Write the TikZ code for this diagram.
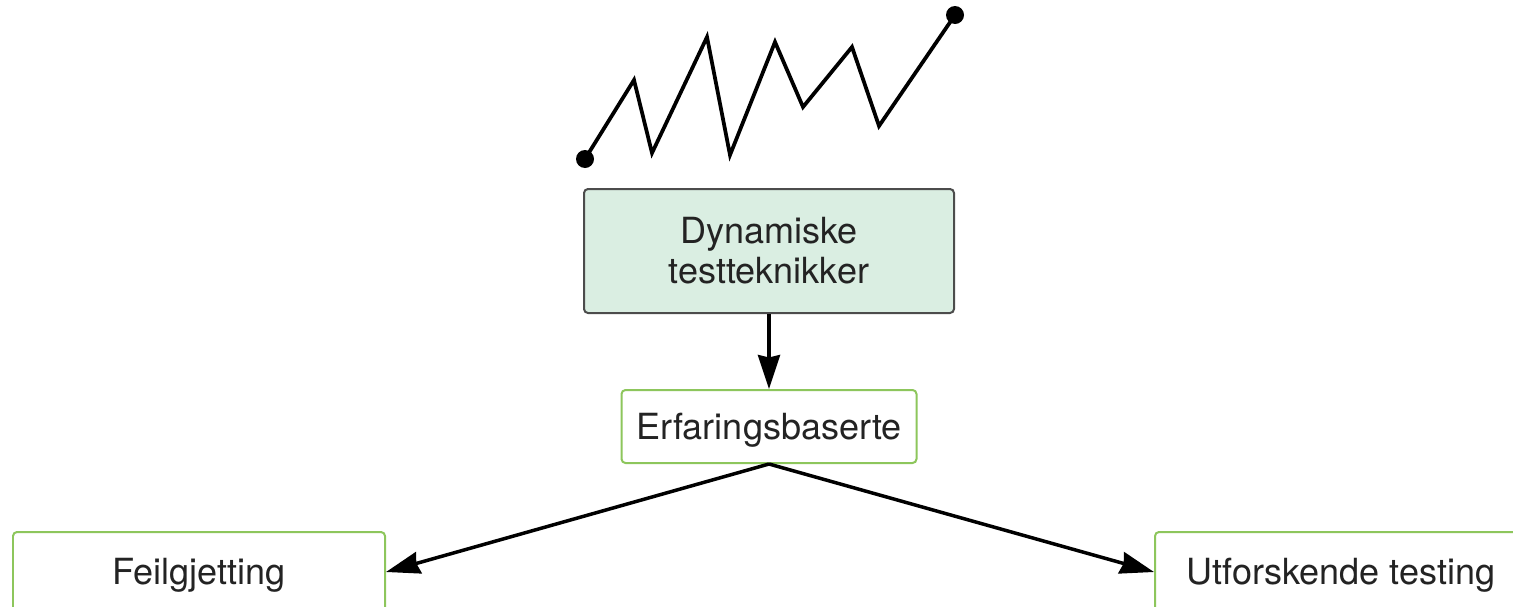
\documentclass[tikz,border=0pt]{standalone}
\usepackage{fontspec}
\setmainfont{TeX Gyre Heros}
\usetikzlibrary{arrows.meta}

\definecolor{boxgreen}{RGB}{141,198,92}
\definecolor{mint}{RGB}{218,238,226}
\definecolor{txtgray}{RGB}{35,35,35}

\tikzset{
	techbox/.style={draw=boxgreen, line width=0.04cm, rounded corners=0.08cm, fill=white,
		text=txtgray, font=\fontsize{20.5}{22.8}\selectfont, text height=14.7pt, text depth=0pt},
	mainbox/.style={draw=black!70, line width=0.04cm, rounded corners=0.08cm, fill=mint,
		text=txtgray, font=\fontsize{20.5}{22.8}\selectfont, align=center},
	arr/.style={line width=0.07cm, -{Stealth[length=0.68cm, width=0.44cm, inset=0.05cm]}}
}

\begin{document}
\begin{tikzpicture}
		
		\clip (0,0) rectangle (30.26,-12.12);
		
		%%%%% Zigzag %%%%%%
		\draw[line width=0.075cm] (11.70,-3.18)--(12.68,-1.60)--(13.04,-3.06)--(14.14,-0.74)--(14.60,-3.10)
			--(15.50,-0.84)--(16.06,-2.14)--(17.04,-0.94)--(17.58,-2.52)--(19.10,-0.30);
		\fill (11.70,-3.18) circle (0.18cm);
		\fill (19.10,-0.30) circle (0.18cm);
		
		%%%%% Boxes %%%%%%
		\node[mainbox, minimum width=7.4cm, minimum height=2.48cm] (nodeDyn) at (15.38,-5.02){Dynamiske\\testteknikker};
		\node[techbox, minimum width=5.9cm, minimum height=1.46cm] (nodeErf) at (15.38,-8.53){Erfaringsbaserte};
		\node[techbox, minimum width=7.44cm, minimum height=1.6cm] (nodeFeil) at (3.98,-11.44){Feilgjetting};
		\node[techbox, minimum width=7.44cm, minimum height=1.6cm] (nodeUtf) at (26.82,-11.44){Utforskende testing};
		
		%%%%% Arrows %%%%%%
		\draw[arr] (nodeDyn)--(nodeErf);
		\draw[arr] (nodeErf.south)--(nodeFeil.east);
		\draw[arr] (nodeErf.south)--(nodeUtf.west);
		
		\end{tikzpicture}
\end{document}
